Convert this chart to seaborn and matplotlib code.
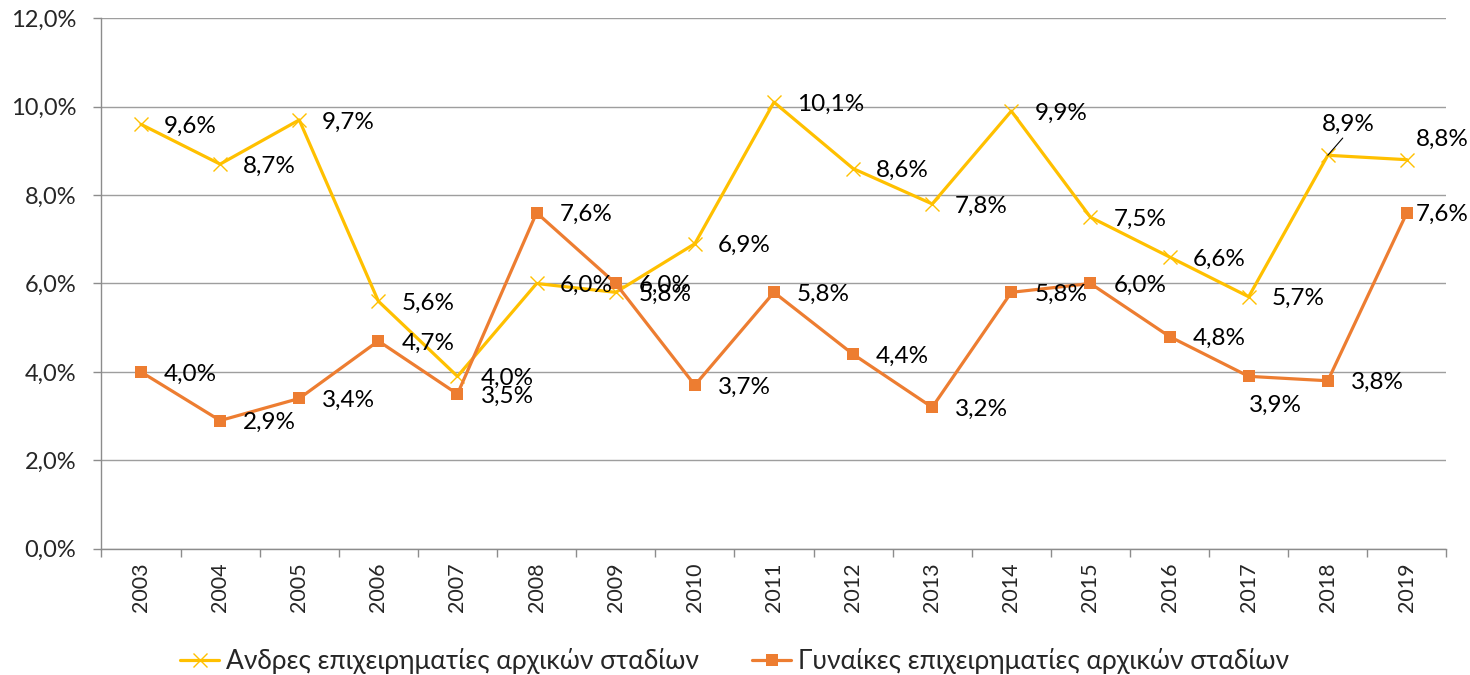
import matplotlib
matplotlib.use("Agg")
import matplotlib.pyplot as plt
import seaborn as sns
import pandas as pd
import numpy as np
from matplotlib.ticker import FuncFormatter, FixedLocator

years = ["2003", "2004", "2005", "2006", "2007", "2008", "2009", "2010", "2011",
         "2012", "2013", "2014", "2015", "2016", "2017", "2018", "2019"]
men = [9.6, 8.7, 9.7, 5.6, 3.9, 6.0, 5.8, 6.9, 10.1, 8.6, 7.8, 9.9, 7.5, 6.6, 5.7, 8.9, 8.8]
men_labels = ["9,6%", "8,7%", "9,7%", "5,6%", "4,0%", "6,0%", "5,8%", "6,9%", "10,1%",
              "8,6%", "7,8%", "9,9%", "7,5%", "6,6%", "5,7%", "8,9%", "8,8%"]
women = [4.0, 2.9, 3.4, 4.7, 3.5, 7.6, 6.0, 3.7, 5.8, 4.4, 3.2, 5.8, 6.0, 4.8, 3.9, 3.8, 7.6]
women_labels = ["4,0%", "2,9%", "3,4%", "4,7%", "3,5%", "7,6%", "6,0%", "3,7%", "5,8%",
                "4,4%", "3,2%", "5,8%", "6,0%", "4,8%", "3,9%", "3,8%", "7,6%"]
men_name = "Ανδρες επιχειρηματίες αρχικών σταδίων"
women_name = "Γυναίκες επιχειρηματίες αρχικών σταδίων"

sns.set_theme(style="white")
plt.rcParams['font.family'] = ['Lato', 'DejaVu Sans']

fig = plt.figure(figsize=(14.7, 6.75), dpi=100)
ax = fig.add_axes([0.069, 0.187, 0.915, 0.786])

pos = np.arange(len(years))
df_m = pd.DataFrame({"x": pos, "y": men})
df_w = pd.DataFrame({"x": pos, "y": women})

c_m = "#FFC000"
c_w = "#ED7D31"
sns.lineplot(data=df_m, x="x", y="y", ax=ax, color=c_m, linewidth=2.3, marker="x",
             markersize=9.5, markeredgewidth=1.0, markeredgecolor=c_m, label=men_name)
sns.lineplot(data=df_w, x="x", y="y", ax=ax, color=c_w, linewidth=2.3, marker="s",
             markersize=9, markeredgewidth=0, label=women_name)

ax.set_xlim(-0.5, len(years) - 0.5)
ax.set_ylim(0, 12)
ax.set_yticks(np.arange(0, 12.1, 2))
ax.yaxis.set_major_formatter(FuncFormatter(lambda v, p: f"{v:.1f}%".replace(".", ",")))
ax.set_xticks(pos)
ax.set_xticklabels(years, rotation=90, fontsize=15.5)
ax.xaxis.set_minor_locator(FixedLocator(np.arange(-0.5, len(years), 1)))
ax.tick_params(axis="x", which="major", length=0, pad=10)
ax.tick_params(axis="x", which="minor", length=6, color="#8C8C8C", width=1, direction="out", bottom=True)
ax.tick_params(axis="y", length=6, color="#8C8C8C", width=1, direction="out", left=True, labelsize=17, pad=12)
ax.set_xlabel("")
ax.set_ylabel("")
ax.grid(axis="y", color="#9E9E9E", linewidth=1)
ax.set_axisbelow(True)
for s in ["top", "right"]:
    ax.spines[s].set_visible(False)
for s in ["left", "bottom"]:
    ax.spines[s].set_color("#8C8C8C")
    ax.spines[s].set_linewidth(1)

# label offsets in pixels (dx, dy) relative to point; default right
default = (23, -2)
men_off = {16: (9, 20)}
women_off = {14: (0, -29), 16: (9, -2)}
fs = 17.5

for i, (v, t) in enumerate(zip(men, men_labels)):
    if i == 15:
        ax.annotate(t, xy=(i, v), xytext=(-6, 31), textcoords="offset pixels",
                    fontsize=fs, va="center", ha="left", color="#000000",
                    arrowprops=dict(arrowstyle="-", color="black", lw=0.8, shrinkA=0, shrinkB=0,
                                    relpos=(0.45, 0.0)))
        continue
    dx, dy = men_off.get(i, default)
    ax.annotate(t, xy=(i, v), xytext=(dx, dy), textcoords="offset pixels",
                fontsize=fs, va="center", ha="left", color="#000000")

for i, (v, t) in enumerate(zip(women, women_labels)):
    dx, dy = women_off.get(i, default)
    ax.annotate(t, xy=(i, v), xytext=(dx, dy), textcoords="offset pixels",
                fontsize=fs, va="center", ha="left", color="#000000")

leg = ax.legend(loc="center", bbox_to_anchor=(0.4706, -0.212), ncol=2, frameon=False,
                fontsize=19, handlelength=1.5, columnspacing=2.0, handletextpad=0.25)

fig.savefig("out.png", dpi=100)
